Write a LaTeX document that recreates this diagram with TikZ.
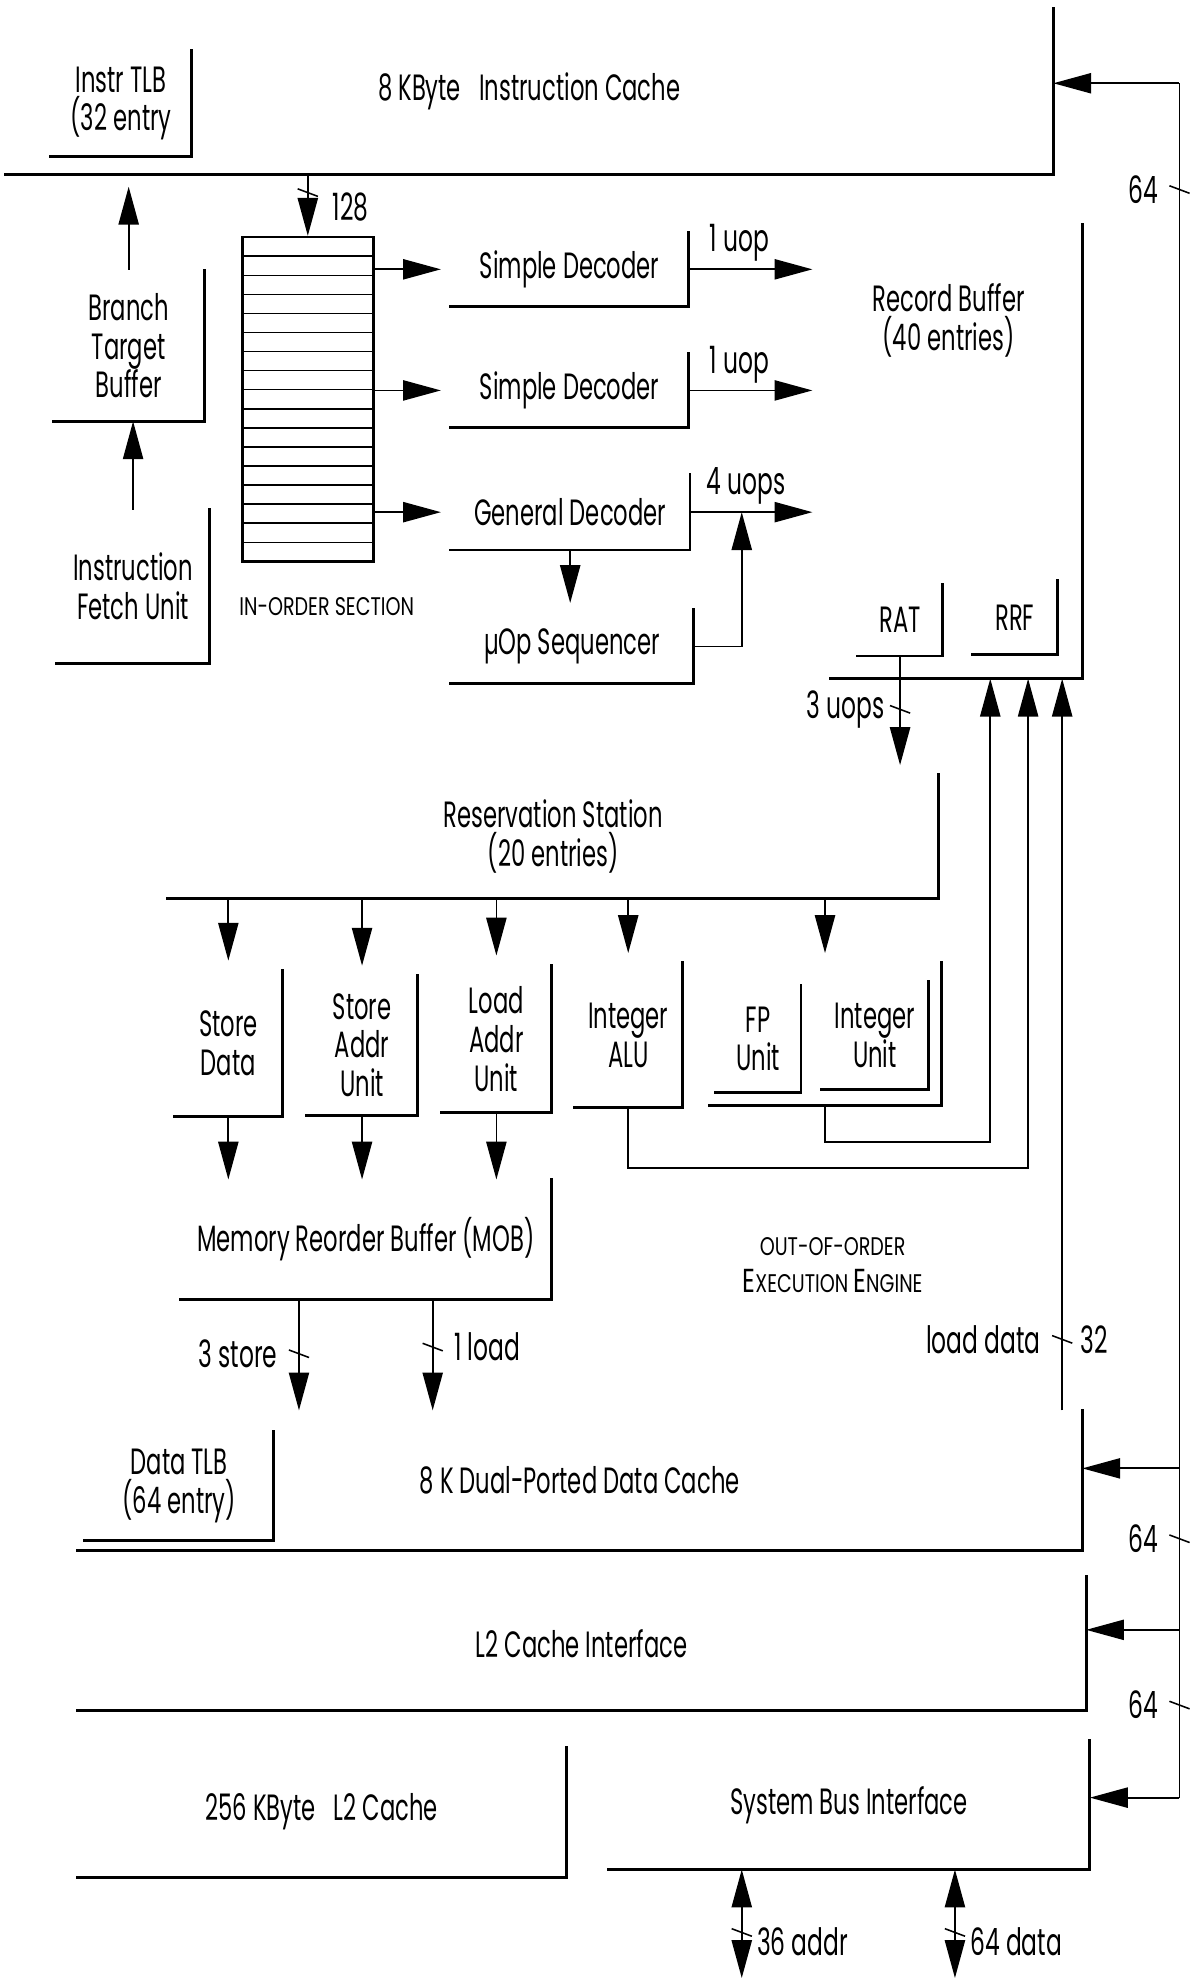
\documentclass[tikz,border=0pt]{standalone}
\usepackage{fontspec}
\setmainfont{Poppins}[FakeStretch=0.62]
\newfontfamily\scfont{Poppins}[FakeStretch=0.75]
\usetikzlibrary{arrows.meta, positioning, calc}
\tikzset{
  rim/.style={line width=1.3pt, line cap=rect},
  lbox/.style={inner sep=0pt, outer sep=0pt, align=center,
    append after command={\pgfextra{\draw[rim] (\tikzlastnode.north east)
      -- (\tikzlastnode.south east) -- (\tikzlastnode.south west);}}},
  sz/.style 2 args={minimum width=#1*0.2mm, minimum height=#2*0.2mm},
  arr/.style={-{Triangle[length=6mm, width=3.2mm]}, line width=0.8pt},
  arrs/.style={{Triangle[length=6mm, width=3.2mm]}-{Triangle[length=6mm, width=3.2mm]}, line width=0.8pt},
  lbl/.style={font=\fontsize{17}{19}\selectfont, inner sep=1pt},
  sc/.style={font=\scfont\fontsize{11.5}{16.5}\selectfont, inner sep=1pt, align=center},
  bw/.pic={\draw[line width=0.7pt] (-1.6mm,0.6mm) -- (1.6mm,-0.6mm);},
}

\begin{document}
\begin{tikzpicture}[x=0.2mm, y=-0.2mm, font=\fontsize{16.5}{17.5}\selectfont]
  \useasboundingbox (0,0) rectangle (951,1568);

  % front end
  \node[lbox, sz={831}{131}] (icache) at (419.5,72.5) {8 KByte\enspace Instruction Cache};
  \node[lbox, sz={112}{84}] (itlb) at (96,82) {Instr TLB\\(32 entry};
  \node[lbox, sz={120}{120}] (btb) at (102,274) {Branch\\Target\\Buffer};
  \node[lbox, sz={121}{122}] (ifu) at (105.5,465) {Instruction\\Fetch Unit};
  \node[draw, line width=1.2pt, inner sep=0pt, sz={104}{257},
    path picture={\foreach \k in {1,...,16}
      \draw[line width=0.7pt]
        ($(path picture bounding box.north west)!\k/17!(path picture bounding box.south west)$) --
        ($(path picture bounding box.north east)!\k/17!(path picture bounding box.south east)$);}] (queue) at (244,316.5) {};
  \node[sc] (inorder) at (259,481) {IN-ORDER SECTION};
  \node[lbox, sz={189}{59}] (sdec1) at (451.5,213.5) {Simple Decoder};
  \node[lbox, sz={189}{59}] (sdec2) at (451.5,309.5) {Simple Decoder};
  \node[lbox, sz={190}{60}] (gdec) at (452,406) {General Decoder};
  \node[lbox, sz={193}{59}] (useq) at (453.5,512.5) {µOp Sequencer};

  % out-of-order core
  \node[lbox, sz={200}{360}] (rob) at (758,358) {};
  \node[align=center] (robtext) at (752,254) {Record Buffer\\(40 entries)};
  \node[lbox, sz={67}{57}] (rat) at (713.5,491.5) {RAT};
  \node[lbox, sz={67}{59}] (rrf) at (804.5,489.5) {RRF};
  \node[lbox, sz={611}{98}] (rs) at (438.5,663) {Reservation Station\\(20 entries)};
  \node[lbox, sz={86}{116}] (sdu) at (181,827) {Store\\Data};
  \node[lbox, sz={88}{111}] (sau) at (287,828.5) {Store\\Addr\\Unit};
  \node[lbox, sz={87}{117}] (lau) at (393.5,823.5) {Load\\Addr\\Unit};
  \node[lbox, sz={86}{115}] (alu) at (498,820.5) {Integer\\ALU};
  \node[lbox, sz={184}{113}] (fpg) at (654,819.5) {};
  \node[lbox, sz={68}{85}] (fpu) at (601,823.5) {FP\\Unit};
  \node[lbox, sz={85}{86}] (iu) at (693.5,821) {Integer\\Unit};
  \node[lbox, sz={294}{95}] (mob) at (290,982.5) {Memory Reorder Buffer (MOB)};
  \node[sc] (ooo) at (660,1003) {OUT-OF-ORDER\\{\fontsize{15}{16.5}\selectfont E}XECUTION {\fontsize{15}{16.5}\selectfont E}NGINE};

  % memory side
  \node[lbox, sz={797}{111}] (dcache) at (459.5,1173.5) {8 K Dual-Ported Data Cache};
  \node[lbox, sz={150}{86}] (dtlb) at (142,1178) {Data TLB\\(64 entry)};
  \node[lbox, sz={800}{106}] (l2if) at (461,1303) {L2 Cache Interface};
  \node[lbox, sz={388}{103}] (l2) at (255,1436.5) {256 KByte\enspace L2 Cache};
  \node[lbox, sz={382}{102}] (sbi) at (673,1431) {System Bus Interface};

  \coordinate (bustop) at (935,66);
  \coordinate (busbot) at (935,1425);
  \coordinate (busd) at (935,1164);
  \coordinate (busl) at (935,1292);
  \coordinate (addrend) at (588,1568);
  \coordinate (dataend) at (757,1568);
  \coordinate (stx) at ($(mob.south)+(-53,0)$);
  \coordinate (ldx) at ($(mob.south)+(53,0)$);
  \coordinate (ldtop) at ($(rob.south)+(84,0)$);

  % in-order connections
  \draw[arr, shorten >=2mm] (btb.north) -- (btb.north |- icache.south);
  \draw[arr] (ifu.north) -- (ifu.north |- btb.south);
  \draw[arr] (queue.north |- icache.south) -- coordinate[pos=0.3] (w128) (queue.north);
  \pic at (w128) {bw};
  \node[lbl] (n128) at (278,164) {128};
  \draw[arr, shorten >=1.5mm] (queue.east |- sdec1.west) -- (sdec1.west);
  \draw[arr, shorten >=1.5mm] (queue.east |- sdec2.west) -- (sdec2.west);
  \draw[arr, shorten >=1.5mm] (queue.east |- gdec.west) -- (gdec.west);
  \draw[arr, shorten >=2.8mm] (sdec1.east) -- node[lbl, pos=0.36, above=2pt] {1 uop} (sdec1.east -| rob.west);
  \draw[arr, shorten >=2.8mm] (sdec2.east) -- node[lbl, pos=0.36, above=2pt] {1 uop} (sdec2.east -| rob.west);
  \draw[arr, shorten >=2.8mm] (gdec.east) -- node[lbl, pos=0.4, above=2pt] {4 uops} (gdec.east -| rob.west);
  \draw[arr, shorten >=1mm] (gdec.south) -- (gdec.south |- useq.north);
  \draw[arr] (useq.east) -| ($(gdec.east)+(41,0)$);

  % out-of-order connections
  \draw[arr, shorten >=1.5mm] (rat.south) -- coordinate[pos=0.45] (w3u) (rat.south |- rs.north);
  \pic at (w3u) {bw};
  \node[lbl, left=2mm of w3u] (n3u) {3 uops};
  \foreach \u in {sdu,sau,lau,alu,fpg}
    \draw[arr, shorten >=1.5mm] (rs.south -| \u.north) -- (\u.north);
  \foreach \u in {sdu,sau,lau}
    \draw[arr] (\u.south) -- (\u.south |- mob.north);
  \draw[arr] (alu.south) -- ++(0,48) -| ($(rob.south)+(57,0)$);
  \draw[arr] (fpg.south) -- ++(0,29) -| ($(rob.south)+(27,0)$);
  \draw[arr] (ldtop |- dcache.north) -- coordinate[pos=0.097] (w32) (ldtop);
  \pic at (w32) {bw};
  \node[lbl, left=3mm of w32] (nld) {load data};
  \node[lbl, right=2.5mm of w32] (n32) {32};

  % memory connections
  \draw[arr] (stx) -- coordinate[pos=0.49] (w3s) (stx |- dcache.north);
  \pic at (w3s) {bw};
  \node[lbl, left=3mm of w3s] (n3s) {3 store};
  \draw[arr] (ldx) -- coordinate[pos=0.43] (w1l) (ldx |- dcache.north);
  \pic at (w1l) {bw};
  \node[lbl, right=3mm of w1l] (n1l) {1 load};

  % system bus
  \draw[line width=0.8pt] (busbot) -- coordinate[pos=0.054] (w64c) coordinate[pos=0.151] (w64b)
    coordinate[pos=0.938] (w64a) (bustop);
  \draw[arr] (bustop) -- (bustop -| icache.east);
  \draw[arr] (busd) -- (busd -| dcache.east);
  \draw[arr] (busl) -- (busl -| l2if.east);
  \draw[arr] (busbot) -- (busbot -| sbi.east);
  \foreach \w in {w64a,w64b,w64c} {
    \pic at (\w) {bw};
    \node[lbl, left=3mm of \w] {64};
  }
  \draw[arrs] (sbi.south -| addrend) -- coordinate[pos=0.58] (w36) (addrend);
  \pic at (w36) {bw};
  \node[lbl, right=2mm of w36, yshift=-1.5mm] (n36) {36 addr};
  \draw[arrs] (sbi.south -| dataend) -- coordinate[pos=0.58] (w64d) (dataend);
  \pic at (w64d) {bw};
  \node[lbl, right=2mm of w64d, yshift=-1.5mm] (n64d) {64 data};
\end{tikzpicture}
\end{document}
